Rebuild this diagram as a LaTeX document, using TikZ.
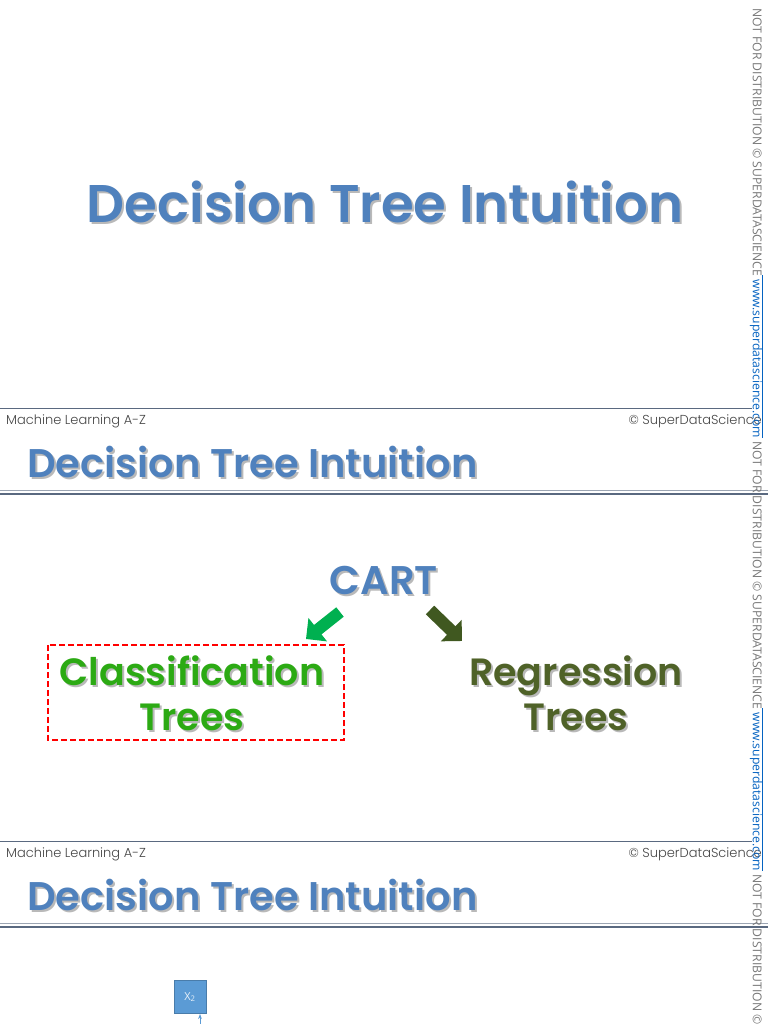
\documentclass[tikz,border=0pt]{standalone}
\usepackage{fontspec}
\setmainfont{Poppins}[BoldFont={* SemiBold}]
\newfontfamily\sidefont{Open Sans}
\newfontfamily\footfont{Poppins}[UprightFont={* Light}]
\usetikzlibrary{arrows.meta}
\definecolor{titleblue}{RGB}{79,129,189}
\definecolor{shadowgray}{RGB}{185,185,185}
\definecolor{rulecol}{RGB}{90,105,128}
\definecolor{footgray}{RGB}{70,70,70}
\definecolor{clsgreen}{RGB}{44,170,20}
\definecolor{reggreen}{RGB}{79,98,40}
\definecolor{arrgreen}{RGB}{0,176,80}
\definecolor{arrdark}{RGB}{64,88,32}
\definecolor{linkblue}{RGB}{5,99,193}
\definecolor{sidegray}{RGB}{120,120,120}
\definecolor{xbox}{RGB}{91,155,213}
\tikzset{
  bigtitle/.style={font=\bfseries\fontsize{53}{53}\selectfont, text=titleblue, inner sep=0pt},
  smalltitle/.style={font=\bfseries\fontsize{40}{40}\selectfont, text=titleblue, inner sep=0pt, anchor=west},
  shadowtxt/.style={text=shadowgray},
  foot/.style={font=\footfont\fontsize{13}{13}\selectfont, text=footgray, inner sep=0pt},
  treetxt/.style={font=\bfseries\fontsize{38}{45}\selectfont, align=center, inner sep=0pt},
  carttxt/.style={font=\bfseries\fontsize{40}{40}\selectfont, inner sep=0pt},
  sidetxt/.style={font=\sidefont\fontsize{12.2}{12.2}\selectfont, rotate=-90, anchor=west, inner sep=0pt},
  rulethin/.style={draw=rulecol, line width=1pt},
  rulethick/.style={draw=rulecol, line width=2.5pt},
  blockarrow/.style={line width=12pt, -{Triangle[length=15pt,width=29pt]}},
}
\begin{document}
\begin{tikzpicture}[x=1pt,y=-1pt]
\useasboundingbox (0,0) rectangle (768,1024);
\fill[white] (0,0) rectangle (768,1024);
% ---------- slide 1 ----------
\node[bigtitle, shadowtxt] at (387,204) {Decision Tree Intuition};
\node[bigtitle] (t1) at (385,202) {Decision Tree Intuition};
\draw[rulethin] (0,408) -- (752,408);
\node[foot, anchor=west] (f1l) at (6,421) {Machine Learning A-Z};
\node[foot, anchor=east] (f1r) at (762,421) {© SuperDataScience};
% ---------- slide 2 ----------
\node[smalltitle, shadowtxt] at (29,464) {Decision Tree Intuition};
\node[smalltitle] (t2) at (27,462) {Decision Tree Intuition};
\draw[draw=rulecol!60, line width=1pt] (0,490) -- (768,490);
\draw[rulethick] (0,494) -- (768,494);
\node[carttxt, text=shadowgray] at (386,582) {CART};
\node[carttxt, text=titleblue] (cart) at (384,580) {CART};
\coordinate (ga) at (340,612);
\coordinate (gb) at (306,639);
\coordinate (da) at (430,610);
\coordinate (db) at (462,641);
\draw[blockarrow, draw=arrgreen, color=arrgreen] (ga) -- (gb);
\draw[blockarrow, draw=arrdark, color=arrdark] (da) -- (db);
\draw[red, dash pattern=on 6pt off 3pt, line width=1.3pt] (48,645) rectangle (344,740);
\node[treetxt, text=shadowgray] at (194,695) {Classification\\Trees};
\node[treetxt, text=clsgreen] (cls) at (192,693) {Classification\\Trees};
\node[treetxt, text=shadowgray] at (578,695) {Regression\\Trees};
\node[treetxt, text=reggreen] (reg) at (576,693) {Regression\\Trees};
\draw[rulethin] (0,841) -- (752,841);
\node[foot, anchor=west] (f2l) at (6,854) {Machine Learning A-Z};
\node[foot, anchor=east] (f2r) at (762,854) {© SuperDataScience};
% ---------- slide 3 ----------
\node[smalltitle, shadowtxt] at (29,897) {Decision Tree Intuition};
\node[smalltitle] (t3) at (27,895) {Decision Tree Intuition};
\draw[draw=rulecol!60, line width=1pt] (0,923) -- (768,923);
\draw[rulethick] (0,927) -- (768,927);
\node[draw=xbox!80!black, fill=xbox, minimum width=32pt, minimum height=33pt, inner sep=0pt, text=white!85!xbox, font=\sidefont\fontsize{11}{11}\selectfont] (x2) at (190,997) {X\textsubscript{2}};
\coordinate (axbot) at (200,1030);
\coordinate (axtop) at (200,1014);
\draw[xbox, line width=1pt, -{Stealth[length=5pt]}] (axbot) -- (axtop);
% ---------- side watermark ----------
\foreach \y in {8,441,874}{
  \node[sidetxt, text=sidegray] at (756,\y) {NOT FOR DISTRIBUTION © SUPERDATASCIENCE \textcolor{linkblue}{www.superdatascience.com}};
}
\foreach \y in {275,708}{
  \draw[linkblue, line width=0.8pt] (762.5,\y) -- (762.5,\y+163);
}
\end{tikzpicture}
\end{document}
